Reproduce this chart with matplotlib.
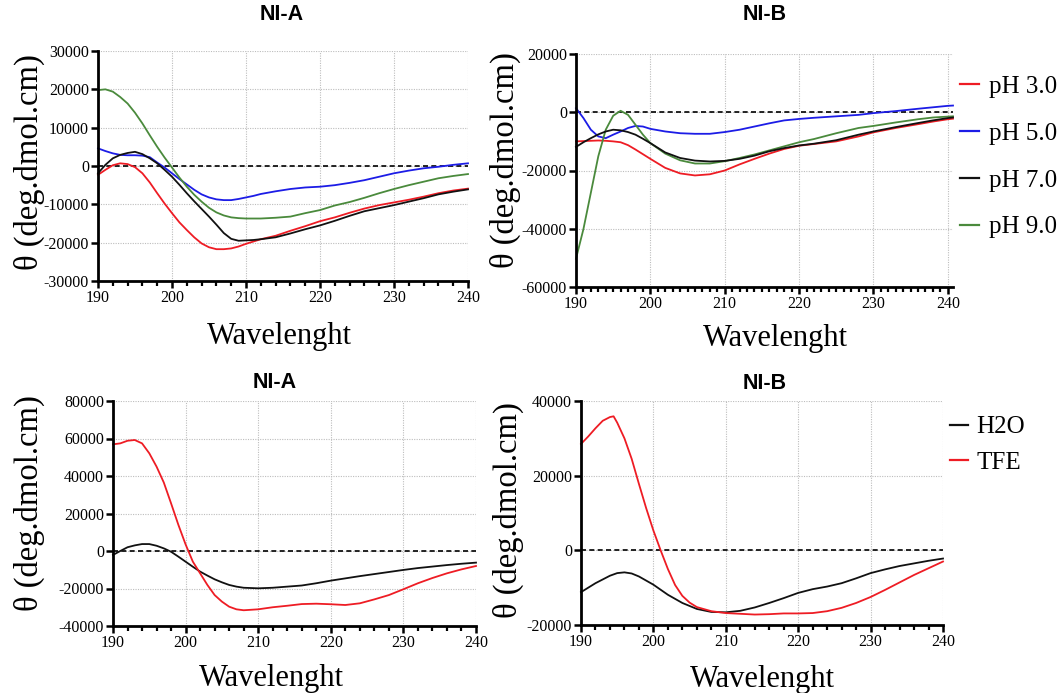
import matplotlib
matplotlib.use('Agg')
import matplotlib.pyplot as plt
from matplotlib.ticker import MultipleLocator, FuncFormatter
from matplotlib.lines import Line2D

plt.rcParams['axes.unicode_minus'] = False
plt.rcParams['font.family'] = ['Liberation Serif', 'DejaVu Serif']

# ---------------- data ----------------
# Panel 1: NI-A, pH series
p1_x = [190, 191, 192, 193, 194, 195, 196, 197, 198, 199, 200, 201, 202, 203, 204, 205,
        206, 207, 208, 209, 210, 211, 212, 214, 216, 218, 220, 222, 224, 226, 228, 230,
        232, 234, 236, 238, 240]
p1_ph3 = [-2300, -1000, 200, 700, 500, -300, -1900, -4300, -7100, -9800, -12300, -14700,
          -16700, -18600, -20200, -21200, -21700, -21700, -21500, -21000, -20300, -19700,
          -19100, -18200, -16900, -15700, -14400, -13400, -12200, -11100, -10200, -9500,
          -8800, -8000, -7100, -6400, -5900]
p1_ph5 = [4600, 3900, 3300, 2900, 2800, 2800, 2700, 2300, 900, -400, -1900, -3400, -4800,
          -6200, -7400, -8200, -8700, -8900, -8900, -8600, -8200, -7800, -7300, -6600,
          -6000, -5600, -5400, -5000, -4400, -3700, -2800, -1900, -1200, -600, -200, 300, 700]
p1_ph7 = [-1900, 300, 2000, 2900, 3400, 3700, 3100, 2000, 700, -1000, -2800, -4900, -7100,
          -9200, -11200, -13200, -15300, -17500, -19000, -19500, -19400, -19300, -19100,
          -18600, -17600, -16500, -15500, -14300, -13000, -11800, -11000, -10200, -9300,
          -8400, -7400, -6700, -6100]
p1_ph9 = [19800, 20000, 19400, 18000, 16300, 13900, 11100, 8000, 5000, 2200, -400, -3000,
          -5400, -7500, -9300, -10900, -12100, -12900, -13400, -13600, -13700, -13700,
          -13700, -13500, -13200, -12300, -11500, -10300, -9400, -8300, -7100, -6000, -5000,
          -4100, -3200, -2600, -2100]

# Panel 2: NI-B, pH series
p2_x = [190, 191, 192, 193, 194, 195, 196, 197, 198, 199, 200, 202, 204, 206, 208,
        210, 212, 214, 216, 218, 220, 222, 225, 228, 230, 233, 236, 238, 240, 240.7]
p2_ph3 = [-10000, -9900, -9800, -9700, -9800, -10000, -10300, -11300, -12800, -14400,
          -16000, -19100, -21000, -21700, -21300, -20000, -17900, -16000, -14200, -12600,
          -11500, -10900, -10000, -8300, -6900, -5400, -4100, -3200, -2400, -2200]
p2_ph5 = [1400, -2000, -6000, -8300, -8900, -7700, -6600, -5400, -4700, -4900, -5700,
          -6600, -7200, -7400, -7400, -6800, -6000, -4900, -3800, -2800, -2300, -1900,
          -1400, -900, -300, 400, 1200, 1700, 2200, 2300]
p2_ph7 = [-11900, -10300, -8900, -7600, -6600, -6000, -6200, -6800, -7700, -9100, -10600,
          -13800, -15700, -16600, -16900, -16700, -16000, -14900, -13400, -12300, -11400,
          -10800, -9600, -7700, -6600, -5100, -3700, -2800, -2000, -1800]
p2_ph9 = [-50300, -40100, -27600, -15100, -6000, -1200, 500, -900, -4300, -7700, -10600,
          -14200, -16500, -17600, -17600, -16800, -15700, -14500, -13100, -11700, -10300,
          -9200, -7200, -5400, -4700, -3500, -2400, -1800, -1500, -1400]

# Panel 3: NI-A, solvent series
p3_x = [190, 191, 192, 193, 194, 195, 196, 197, 198, 199, 200, 201, 202, 203, 204, 205,
        206, 207, 208, 210, 212, 214, 216, 218, 220, 222, 224, 226, 228, 230, 232, 234,
        236, 238, 240]
p3_h2o = [-2100, 0, 2000, 3000, 3700, 3700, 2800, 1400, -400, -3000, -5700, -8400, -11000,
          -13100, -15100, -16700, -18100, -19000, -19600, -19900, -19600, -19000, -18400,
          -17200, -15800, -14600, -13400, -12300, -11200, -10100, -9100, -8300, -7500,
          -6800, -6200]
p3_tfe = [56900, 57400, 58800, 59200, 57400, 52100, 45000, 36500, 25400, 14000, 3500,
          -5700, -11900, -18100, -23500, -27000, -29700, -31100, -31600, -31100, -30000,
          -29200, -28300, -28100, -28400, -28800, -27900, -25800, -23500, -20400, -17200,
          -14400, -11900, -9800, -8000]

# Panel 4: NI-B, solvent series
p4_h2o_x = [190, 192, 194, 195, 196, 197, 198, 200, 202, 204, 206, 208, 210, 212, 214,
            216, 218, 220, 222, 224, 226, 228, 230, 232, 234, 236, 238, 240]
p4_h2o = [-11200, -8800, -6800, -6100, -5900, -6200, -7000, -9200, -11900, -14100, -15700,
          -16500, -16600, -16200, -15300, -14100, -12800, -11400, -10400, -9700, -8800,
          -7500, -6100, -5100, -4200, -3500, -2800, -2200]
p4_tfe_x = [190, 191, 192, 193, 194, 194.5, 195, 196, 197, 198, 199, 200, 201, 202, 203,
            204, 205, 206, 208, 210, 212, 214, 216, 218, 220, 222, 224, 226, 228, 230, 232,
            234, 236, 238, 240]
p4_tfe = [28500, 30500, 32700, 34700, 35700, 35900, 34200, 30000, 24500, 17800, 11300,
          5300, 0, -5000, -9300, -12200, -14000, -15200, -16300, -16800, -17000, -17200,
          -17100, -16900, -16900, -16800, -16300, -15400, -14100, -12500, -10600, -8600,
          -6600, -4800, -3000]

ph_labels = ['pH 3.0', 'pH 5.0', 'pH 7.0', 'pH 9.0']
solv_labels = ['H2O', 'TFE']
titles = ['NI-A', 'NI-B', 'NI-A', 'NI-B']
xlabel = 'Wavelenght'
ylabel = 'θ (deg.dmol.cm)'

RED = '#ee1c24'
BLUE = '#1c1ce6'
BLACK = '#111111'
GREEN = '#4a8a3c'

# ---------------- figure ----------------
fig = plt.figure(figsize=(10.59, 6.93), dpi=100)
W, H = 1059, 693


def make_ax(x0, x1, y0, y1):
    return fig.add_axes([x0 / W, 1 - y1 / H, (x1 - x0) / W, (y1 - y0) / H])


ax1 = make_ax(98, 468, 51, 281)
ax2 = make_ax(576, 953, 54, 287)
ax3 = make_ax(113, 476, 401, 626)
ax4 = make_ax(581, 943, 401, 625)

fmt = FuncFormatter(lambda v, p: f"{int(round(v))}")


def style(ax, xlim, ylim, yticks, minor, title, tpos, ylab_pos, xlab_pos):
    ax.set_xlim(*xlim)
    ax.set_ylim(*ylim)
    ax.set_xticks([190, 200, 210, 220, 230, 240])
    ax.xaxis.set_minor_locator(MultipleLocator(minor))
    ax.set_yticks(yticks)
    ax.yaxis.set_major_formatter(fmt)
    for s in ['top', 'right']:
        ax.spines[s].set_visible(False)
    for s in ['left', 'bottom']:
        ax.spines[s].set_linewidth(2.0)
    ax.tick_params(which='major', direction='out', length=5, width=1.8,
                   labelsize=11.5, pad=1.5, colors='black')
    ax.tick_params(which='minor', direction='out', length=3.5, width=1.6)
    ax.grid(True, which='major', linestyle=(0, (1, 1.2)), color='#bdbdbd', lw=0.8)
    ax.set_axisbelow(True)
    ax.axhline(0, color='black', ls=(0, (3, 2)), lw=1.2, zorder=1.5)
    ax.text(tpos[0], tpos[1], title, transform=ax.transAxes, ha='center', va='center',
            fontsize=15.5, fontweight='bold', family='Liberation Sans')
    ax.set_ylabel(ylabel, fontsize=23.5)
    ax.yaxis.set_label_coords(*ylab_pos)
    ax.set_xlabel(xlabel, fontsize=22, va='top')
    ax.xaxis.set_label_coords(*xlab_pos)


style(ax1, (190, 240), (-30000, 30000), list(range(-30000, 30001, 10000)), 2,
      titles[0], (0.497, 1.157), (-0.143, 0.515), (0.49, -0.18))
style(ax2, (190, 240.7), (-60000, 20000), list(range(-60000, 20001, 20000)), 1,
      titles[1], (0.50, 1.169), (-0.146, 0.545), (0.53, -0.16))
style(ax3, (190, 240), (-40000, 80000), list(range(-40000, 80001, 20000)), 2,
      titles[2], (0.445, 1.084), (-0.188, 0.547), (0.435, -0.17))
style(ax4, (190, 240), (-20000, 40000), list(range(-20000, 40001, 20000)), 2,
      titles[3], (0.508, 1.076), (-0.157, 0.513), (0.50, -0.18))

lw = 1.3
ax1.plot(p1_x, p1_ph3, color=RED, lw=lw, label=ph_labels[0])
ax1.plot(p1_x, p1_ph5, color=BLUE, lw=lw, label=ph_labels[1])
ax1.plot(p1_x, p1_ph9, color=GREEN, lw=lw, label=ph_labels[3])
ax1.plot(p1_x, p1_ph7, color=BLACK, lw=lw, label=ph_labels[2])

ax2.plot(p2_x, p2_ph3, color=RED, lw=lw)
ax2.plot(p2_x, p2_ph5, color=BLUE, lw=lw)
ax2.plot(p2_x, p2_ph9, color=GREEN, lw=lw)
ax2.plot(p2_x, p2_ph7, color=BLACK, lw=lw)

ax3.plot(p3_x, p3_h2o, color=BLACK, lw=lw)
ax3.plot(p3_x, p3_tfe, color=RED, lw=lw)

ax4.plot(p4_h2o_x, p4_h2o, color=BLACK, lw=lw)
ax4.plot(p4_tfe_x, p4_tfe, color=RED, lw=lw)

for a in (ax1, ax2, ax3, ax4):
    for ln in a.get_lines():
        ln.set_clip_on(False)

leg_handles_ph = [Line2D([], [], color=c, lw=1.6) for c in (RED, BLUE, BLACK, GREEN)]
ax2.legend(leg_handles_ph, ph_labels, loc='center left',
           bbox_to_anchor=(960 / W, 1 - 157 / H), bbox_transform=fig.transFigure,
           frameon=False, fontsize=18, handlelength=0.75, handletextpad=0.4,
           labelspacing=0.97, borderaxespad=0, borderpad=0)
leg_handles_s = [Line2D([], [], color=c, lw=1.6) for c in (BLACK, RED)]
ax4.legend(leg_handles_s, solv_labels, loc='center left',
           bbox_to_anchor=(950 / W, 1 - 445 / H), bbox_transform=fig.transFigure,
           frameon=False, fontsize=18, handlelength=0.7, handletextpad=0.35,
           labelspacing=0.53, borderaxespad=0, borderpad=0)

fig.savefig('out.png', dpi=100)
